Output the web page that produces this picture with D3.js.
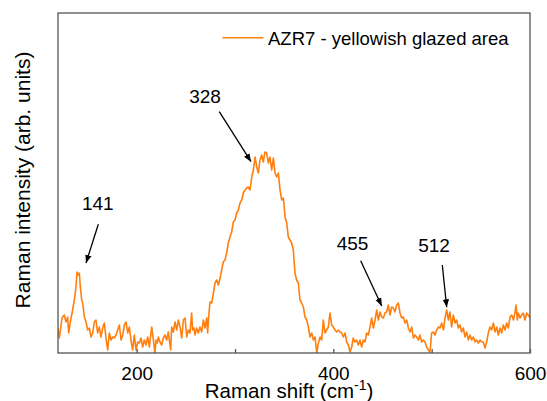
<!DOCTYPE html>
<html>
<head>
<meta charset="utf-8">
<script src="https://cdn.jsdelivr.net/npm/d3@7"></script>
<style>
	body { margin: 0; background: #fff; }
	text { font-family: "Liberation Sans", Arial, sans-serif; fill: #000; }
</style>
</head>
<body>
<div id="chart"></div>
<script>
// Raman spectrum (x: cm-1, y: arb. units)
const shift = [
	120.0, 121.4, 124.1, 126.4, 128.1, 129.8, 130.9, 132.5, 134.9, 136.6, 138.3, 139.3, 140.7, 141.7, 142.7, 144.1,
	145.1, 146.8, 148.5, 150.2, 151.9, 153.6, 155.3, 156.9, 158.6, 160.3, 162.0, 163.7, 165.4, 167.1, 168.8, 170.5,
	172.2, 173.9, 175.6, 177.3, 179.0, 180.7, 182.4, 184.1, 185.8, 187.5, 189.2, 190.9, 192.5, 194.2, 195.9, 197.6,
	199.3, 201.0, 202.7, 204.4, 206.1, 207.8, 209.5, 211.2, 212.9, 215.3, 217.0, 218.6, 219.7, 221.0, 222.0, 223.7,
	225.4, 227.1, 228.8, 230.5, 232.2, 233.2, 234.6, 235.6, 237.3, 239.0, 240.7, 242.4, 244.1, 245.8, 247.5, 249.2,
	250.9, 252.5, 254.2, 255.9, 256.9, 258.3, 259.3, 261.0, 262.7, 264.4, 266.1, 267.8, 269.5, 271.2, 272.2, 273.2,
	274.6, 276.3, 278.0, 279.7, 281.4, 283.1, 284.8, 286.4, 288.1, 289.8, 291.5, 293.2, 294.9, 296.6, 298.3, 300.0,
	301.7, 303.4, 305.1, 306.8, 308.5, 310.2, 311.9, 313.6, 315.3, 317.0, 318.7, 320.4, 322.1, 323.8, 325.4, 327.1,
	328.8, 330.5, 332.2, 333.9, 335.6, 337.3, 339.0, 340.7, 342.4, 344.1, 345.8, 347.5, 349.2, 350.9, 352.6, 354.2,
	355.9, 357.6, 359.3, 361.0, 362.7, 364.4, 366.1, 367.8, 369.5, 371.2, 372.9, 374.6, 376.3, 378.0, 379.7, 381.4,
	383.1, 384.8, 386.5, 388.2, 389.8, 391.5, 393.2, 394.9, 396.6, 398.3, 400.0, 401.7, 403.4, 405.1, 406.8, 408.5,
	410.2, 411.9, 413.6, 415.3, 417.0, 418.7, 420.3, 422.0, 423.7, 425.4, 427.1, 428.8, 430.5, 432.2, 433.9, 435.6,
	437.3, 439.0, 440.7, 442.4, 444.1, 445.8, 447.5, 449.2, 450.9, 452.5, 454.2, 455.9, 457.6, 459.3, 461.0, 462.7,
	464.4, 466.1, 467.8, 469.5, 471.2, 472.9, 474.6, 476.3, 478.0, 479.7, 481.4, 483.1, 484.7, 486.4, 488.1, 489.8,
	491.5, 493.2, 494.9, 496.6, 498.3, 500.0, 501.7, 503.4, 505.1, 506.8, 508.5, 510.2, 511.9, 513.6, 515.3, 517.0,
	518.6, 520.3, 522.0, 523.7, 525.4, 527.1, 528.8, 530.5, 532.2, 533.9, 535.6, 537.3, 539.0, 540.7, 542.4, 544.1,
	545.8, 547.5, 549.2, 550.9, 552.5, 554.2, 555.9, 557.6, 559.3, 561.0, 562.7, 564.4, 566.1, 567.8, 569.5, 571.2,
	572.9, 574.6, 576.3, 578.0, 579.7, 581.4, 583.1, 584.7, 585.8, 587.1, 588.1, 589.8, 591.5, 593.2, 594.9, 596.6,
	598.3, 600.0
];
const intensity = [
	25, 15, 35, 38, 31, 36, 20, 31, 43, 53, 66, 81, 78, 80, 66, 53,
	50, 36, 31, 23, 25, 16, 20, 31, 33, 20, 26, 16, 25, 30, 15, 3,
	20, 13, 16, 15, 18, 23, 28, 13, 18, 28, 31, 20, 26, 13, 3, 18,
	3, 11, 10, 15, 6, 13, 8, 16, 6, 26, 13, 0, 13, 10, 16, 11,
	8, 15, 18, 13, 21, 13, 3, 26, 21, 31, 23, 33, 26, 15, 33, 35,
	16, 23, 20, 40, 23, 25, 18, 25, 20, 26, 21, 33, 25, 35, 20, 36,
	51, 50, 60, 70, 73, 68, 75, 83, 91, 93, 100, 110, 116, 121, 131, 133,
	140, 143, 150, 153, 160, 163, 165, 166, 163, 176, 183, 196, 186, 180, 193, 198,
	191, 201, 200, 190, 196, 183, 195, 180, 176, 180, 163, 153, 155, 136, 130, 116,
	113, 110, 103, 80, 73, 70, 53, 50, 46, 36, 33, 26, 16, 20, 13, 16,
	0, 10, 16, 13, 33, 20, 23, 26, 40, 28, 26, 23, 21, 23, 21, 20,
	16, 20, 11, 8, 1, 6, 15, 11, 13, 8, 13, 6, 13, 11, 20, 18,
	26, 35, 25, 33, 43, 33, 41, 36, 35, 40, 41, 48, 38, 46, 45, 41,
	48, 50, 40, 35, 36, 30, 33, 25, 21, 26, 15, 18, 16, 13, 18, 11,
	13, 11, 6, 3, 1, 20, 21, 18, 23, 26, 25, 30, 23, 35, 43, 33,
	41, 26, 38, 30, 33, 25, 28, 21, 25, 16, 21, 13, 18, 13, 16, 11,
	13, 10, 13, 11, 11, 5, 11, 20, 26, 23, 30, 21, 26, 18, 25, 20,
	28, 23, 30, 25, 36, 38, 33, 40, 48, 33, 40, 35, 38, 40, 33, 40,
	38, 35
];

const xTicks = [200, 300, 400, 500, 600];
const xLabels = [200, 400, 600];

// peak labels: label position, arrow tail and arrow head (in data units)
const peakLabels = ["141", "328", "455", "512"];
const labelAt = [[160.4, 143], [269.5, 250.3], [419.5, 103], [502.4, 101]];
const arrowFrom = [[161.0, 128.7], [284.0, 241.3], [427.8, 92.3], [510.8, 88]];
const arrowTo = [[148.5, 90], [316.3, 191.3], [449.2, 47], [515.3, 45.7]];

const legendLabel = "AZR7 - yellowish glazed area";

const width = 547, height = 401;
const margin = { top: 13, right: 17, bottom: 48, left: 58 };
const orange = "#ff7f0e";

const x = d3.scaleLinear()
	.domain([120, 600])
	.range([margin.left, width - margin.right]);

const y = d3.scaleLinear()
	.domain([0, 340])
	.range([height - margin.bottom, margin.top]);

const svg = d3.select("#chart")
	.append("svg")
	.attr("width", width)
	.attr("height", height);

svg.append("defs")
	.append("marker")
	.attr("id", "head")
	.attr("viewBox", "0 0 10 10")
	.attr("refX", 10)
	.attr("refY", 5)
	.attr("markerWidth", 8)
	.attr("markerHeight", 8)
	.attr("markerUnits", "userSpaceOnUse")
	.attr("orient", "auto")
	.append("path")
	.attr("d", "M0,1 L10,5 L0,9 Z")
	.attr("fill", "#000");

svg.append("clipPath")
	.attr("id", "plot")
	.append("rect")
	.attr("x", margin.left)
	.attr("y", margin.top - 2)
	.attr("width", width - margin.left - margin.right)
	.attr("height", height - margin.top - margin.bottom + 2);

const points = shift.map((s, i) => [s, intensity[i]]);

svg.append("path")
	.datum(points)
	.attr("clip-path", "url(#plot)")
	.attr("fill", "none")
	.attr("stroke", orange)
	.attr("stroke-width", 1.6)
	.attr("stroke-linejoin", "round")
	.attr("d", d3.line()
		.x((d) => x(d[0]))
		.y((d) => y(d[1])));

// frame
svg.append("rect")
	.attr("x", margin.left)
	.attr("y", margin.top)
	.attr("width", width - margin.left - margin.right)
	.attr("height", height - margin.top - margin.bottom)
	.attr("fill", "none")
	.attr("stroke", "#555")
	.attr("stroke-width", 1.3);

const xAxis = svg.append("g")
	.attr("transform", `translate(0,${height - margin.bottom})`)
	.call(d3.axisBottom(x)
		.tickValues(xTicks)
		.tickSizeInner(-4)
		.tickSizeOuter(0)
		.tickPadding(13.5)
		.tickFormat((d) => xLabels.includes(d) ? d : ""));
xAxis.select(".domain").remove();
xAxis.selectAll(".tick line").attr("stroke", "#555").attr("stroke-width", 1.3);
xAxis.selectAll(".tick text")
	.attr("font-family", "Liberation Sans, Arial, sans-serif")
	.attr("font-size", 19)
	.attr("fill", "#000");

// axis titles
const xTitle = svg.append("text")
	.attr("x", 289)
	.attr("y", 397.5)
	.attr("text-anchor", "middle")
	.attr("font-size", 20.5);
xTitle.append("tspan").text("Raman shift (cm");
xTitle.append("tspan").attr("font-size", 14).attr("dy", -8).text("-1");
xTitle.append("tspan").attr("dy", 8).text(")");

svg.append("text")
	.attr("transform", "translate(30,180) rotate(-90)")
	.attr("text-anchor", "middle")
	.attr("font-size", 21)
	.text("Raman intensity (arb. units)");

// legend
svg.append("line")
	.attr("x1", 222.5)
	.attr("x2", 263.5)
	.attr("y1", 37.7)
	.attr("y2", 37.7)
	.attr("stroke", orange)
	.attr("stroke-width", 1.6);
svg.append("text")
	.attr("x", 268)
	.attr("y", 45)
	.attr("font-size", 18.5)
	.text(legendLabel);

// peak annotations
peakLabels.forEach((label, i) => {
	svg.append("text")
		.attr("x", x(labelAt[i][0]))
		.attr("y", y(labelAt[i][1]))
		.attr("text-anchor", "middle")
		.attr("font-size", 19)
		.text(label);
	svg.append("line")
		.attr("x1", x(arrowFrom[i][0]))
		.attr("y1", y(arrowFrom[i][1]))
		.attr("x2", x(arrowTo[i][0]))
		.attr("y2", y(arrowTo[i][1]))
		.attr("stroke", "#000")
		.attr("stroke-width", 1.3)
		.attr("marker-end", "url(#head)");
});
</script>
</body>
</html>
